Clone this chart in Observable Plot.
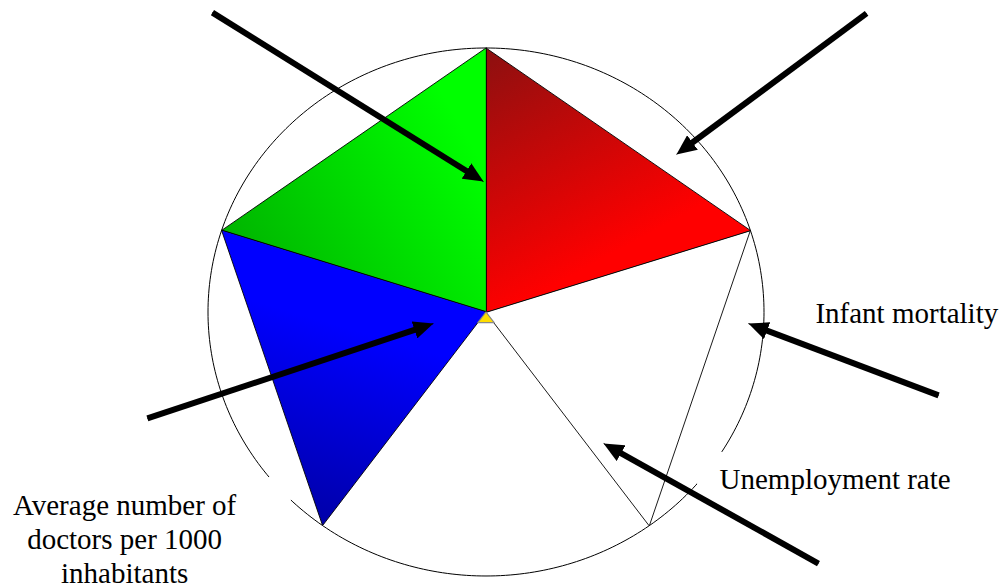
<!DOCTYPE html>
<html>
<head>
<meta charset="utf-8">
<script src="https://cdn.jsdelivr.net/npm/d3@7"></script>
<script src="https://cdn.jsdelivr.net/npm/@observablehq/plot@0.6"></script>
<style>
  html, body { margin: 0; padding: 0; background: #ffffff; }
  svg { display: block; }
</style>
</head>
<body>
<div id="chart"></div>
<script>
// ---------- data ----------
// five spokes of the radar (clockwise from the top)
const spokes = ["Top", "Right", "Lower right", "Lower left", "Left"];
// sectors between consecutive spokes
const sectorNames = ["Top–Right", "Right–Lower right", "Lower right–Lower left", "Lower left–Left", "Left–Top"];
const sectorValues = [1, 1, 1, 1, 1];
// small (yellow) value polygon
const innerValues = [0, 0, 0.05, 0, 0];

// labels
const labelTexts = ["Infant mortality", "Unemployment rate", "Average number of\ndoctors per 1000\ninhabitants"];

// arrows (start -> tip), in radar units (circle radius = 1)
const arrowX1 = [-0.984, 1.369, -1.218, 1.628, 1.196];
const arrowY1 = [1.134, 1.131, -0.403, -0.316, -0.953];
const arrowX2 = [-0.009, 0.685, -0.189, 0.944, 0.423];
const arrowY2 = [0.494, 0.597, -0.044, -0.044, -0.498];

// ---------- layout ----------
const W = 1005, H = 587;
const xDomain = [-1.7464, 1.8687];
const yDomain = [-1.0436, 1.1799];
const labelLayout = [
  {x: 1.185, y: -0.040, anchor: "start"},
  {x: 0.840, y: -0.672, anchor: "start"},
  {x: -1.300, y: -1.025, anchor: "middle"}
];
// white boxes behind labels (they hide parts of the circle)
const labelBoxes = [
  {x1: 0.761, x2: 1.707, y1: -0.714, y2: -0.532},
  {x1: -1.75, x2: -0.700, y1: -1.05, y2: -0.627}
];

const sectorStyle = [
  {fill: "url(#gradRed)", stroke: "black"},
  {fill: "white", stroke: "black"},
  {fill: "white", stroke: "none"},
  {fill: "url(#gradBlue)", stroke: "black"},
  {fill: "url(#gradGreen)", stroke: "black"}
];

// ---------- geometry helpers ----------
const angleOf = i => (90 - 72 * i) * Math.PI / 180;
const pointOn = (i, r) => ({u: r * Math.cos(angleOf(i)), v: r * Math.sin(angleOf(i))});
function sectorPolygon(k, values) {
  const a = pointOn(k, values[k]);
  const b = pointOn((k + 1) % spokes.length, values[k]);
  return [{u: 0, v: 0, sector: sectorNames[k]}, {...a, sector: sectorNames[k]}, {...b, sector: sectorNames[k]}];
}
const ring = d3.range(0, 360, 1).map(d => ({u: Math.cos(d * Math.PI / 180), v: Math.sin(d * Math.PI / 180)}));

const arrows = arrowX1.map((d, i) => ({x1: d, y1: arrowY1[i], x2: arrowX2[i], y2: arrowY2[i]}));
const labels = labelTexts.map((t, i) => ({text: t, ...labelLayout[i]}));

// ---------- marks ----------
const marks = [];
marks.push(Plot.line(ring, {x: "u", y: "v", curve: "linear-closed", stroke: "black", strokeWidth: 1}));
marks.push(Plot.rect(labelBoxes, {x1: "x1", x2: "x2", y1: "y1", y2: "y2", fill: "white"}));
for (const k of [2, 1, 0, 4, 3]) {
  marks.push(Plot.line(sectorPolygon(k, sectorValues), {
    x: "u", y: "v", curve: "linear-closed",
    fill: sectorStyle[k].fill, stroke: sectorStyle[k].stroke, strokeWidth: 0.9
  }));
}
innerValues.forEach((val, k) => {
  if (val > 0) marks.push(Plot.line(sectorPolygon(k, innerValues), {
    x: "u", y: "v", curve: "linear-closed", fill: "#ffdd00", stroke: "#8a8a8a", strokeWidth: 1.2
  }));
});
marks.push(Plot.arrow(arrows, {x1: "x1", y1: "y1", x2: "x2", y2: "y2", stroke: "black",
  strokeWidth: 6, headLength: 0, insetEnd: 12, strokeLinecap: "butt"}));
marks.push(Plot.link(arrows, {x1: "x1", y1: "y1", x2: "x2", y2: "y2", stroke: "black",
  strokeWidth: 1, className: "arrow-head"}));
marks.push(Plot.text(labels.filter(d => d.anchor === "start"), {x: "x", y: "y", text: "text",
  textAnchor: "start", lineAnchor: "bottom", fontFamily: "'Liberation Serif', 'Times New Roman', serif",
  fontSize: 29, fill: "black"}));
marks.push(Plot.text(labels.filter(d => d.anchor === "middle"), {x: "x", y: "y", text: "text",
  textAnchor: "middle", lineAnchor: "bottom", lineHeight: 1.17, fontFamily: "'Liberation Serif', 'Times New Roman', serif",
  fontSize: 29, fill: "black"}));

const svg = Plot.plot({
  width: W, height: H,
  marginTop: 0, marginRight: 0, marginBottom: 0, marginLeft: 0,
  x: {domain: xDomain, axis: null},
  y: {domain: yDomain, axis: null},
  style: {background: "white", overflow: "visible"},
  marks
});

// gradients and filled arrow heads
const root = d3.select(svg);
const defs = root.insert("defs", ":first-child");
function grad(id, x1, y1, x2, y2, c0, c1) {
  const g = defs.append("linearGradient").attr("id", id)
    .attr("x1", x1).attr("y1", y1).attr("x2", x2).attr("y2", y2);
  g.append("stop").attr("offset", 0).attr("stop-color", c0);
  g.append("stop").attr("offset", 1).attr("stop-color", c1);
}
grad("gradRed", 0, 0, 0.434, 0.803, "#8b1010", "#ff0000");
grad("gradGreen", 0, 0.7, 0.85, 0.2, "#00b400", "#00ff00");
grad("gradBlue", 0.55, 0.35, 0.38, 1, "#0000ff", "#0000a8");
defs.append("marker").attr("id", "arrowHead")
  .attr("viewBox", "0 0 20 18").attr("refX", 20).attr("refY", 9)
  .attr("markerWidth", 20).attr("markerHeight", 18)
  .attr("markerUnits", "userSpaceOnUse").attr("orient", "auto")
  .append("path").attr("d", "M0,0L20,9L0,18Z").attr("fill", "black");
root.selectAll("g.arrow-head path").attr("marker-end", "url(#arrowHead)");

document.getElementById("chart").appendChild(svg);
</script>
</body>
</html>
